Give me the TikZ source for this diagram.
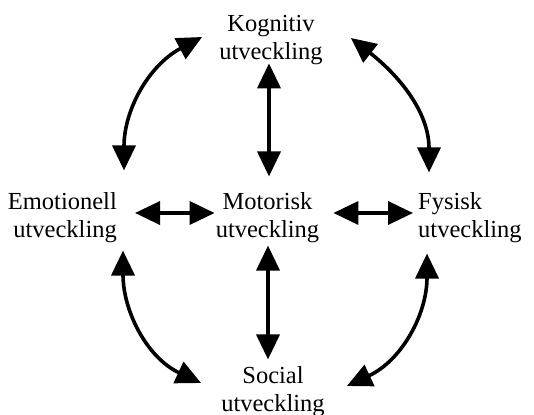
\documentclass[tikz,border=0pt]{standalone}
\usepackage{fontspec}
\setmainfont{Liberation Serif}
\usepackage{tikz}
\usetikzlibrary{arrows.meta,positioning}
\tikzstyle{area} = [inner sep=0pt, font=\fontsize{24.5}{28}\selectfont]
\tikzstyle{arrow} = [line width=3.6pt, <->, >={Triangle[length=25pt,width=23pt]}]

\begin{document}
\begin{tikzpicture}[x=1pt,y=1pt]
    \useasboundingbox (0,0) rectangle (534,414);
    \node[area, align=center] (kog) at (271,373.6) {Kognitiv\\utveckling};
    \node[area, align=right, anchor=east] (emo) at (117,196.6) {Emotionell\\utveckling};
    \node[area, align=center] (mot) at (267.5,196.6) {Motorisk\\utveckling};
    \node[area, align=left, anchor=west] (fys) at (418,196.6) {Fysisk\\utveckling};
    \node[area, align=center] (soc) at (273,22.6) {Social\\utveckling};
    % straight ones
    \draw[arrow] ([shift={(-2,2)}]kog.south) -- ([shift={(1.5,15.6)}]mot.north);
    \draw[arrow] ([shift={(0.5,-2.8)}]mot.south) -- ([shift={(-5,6.6)}]soc.north);
    \draw[arrow] ([shift={(18,4.4)}]emo.east) -- ([shift={(-1,4.4)}]mot.west);
    \draw[arrow] ([shift={(14,4.4)}]mot.east) -- ([shift={(-5,4.4)}]fys.west);
    % curved ones
    \draw[arrow] ([shift={(7,21.6)}]emo.north east) to[out=90,in=208] ([shift={(-17,3.4)}]kog.west);
    \draw[arrow] ([shift={(28,2.4)}]kog.east) to[out=-38,in=90] ([shift={(11,19.6)}]fys.north west);
    \draw[arrow] ([shift={(6,-7.8)}]emo.south east) to[out=-90,in=155] ([shift={(-20,8.4)}]soc.west);
    \draw[arrow] ([shift={(9,-10.8)}]fys.south west) to[out=-90,in=25] ([shift={(22,5.4)}]soc.east);
\end{tikzpicture}
\end{document}
